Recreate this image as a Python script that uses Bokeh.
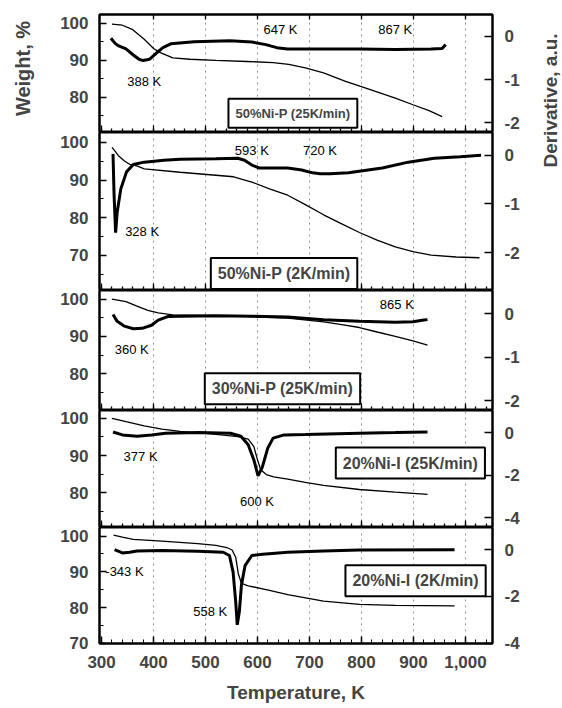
import math
from bokeh.plotting import figure
from bokeh.models import Range1d, LinearAxis, Label, FixedTicker, Grid, NumeralTickFormatter
from bokeh.layouts import column, row
from bokeh.embed import file_html
from bokeh.resources import INLINE

FONT = "Liberation Sans"
NARROW = "'Liberation Sans Narrow', 'Liberation Sans', Arial, sans-serif"

# ---------------- data ----------------
temp_major = [300, 400, 500, 600, 700, 800, 900, 1000]
temp_grid = [400, 500, 600, 700, 800, 900, 1000]
temp_minor = list(range(300, 1061, 20))

# Panel 1: 50%Ni-P (25K/min)
p1_wt_T = [320, 340, 360, 382, 400, 413, 437, 470, 520, 580, 630, 660, 692, 727, 768, 817, 865, 899, 930, 955]
p1_wt = [99.8, 99.5, 98.3, 95.7, 93.2, 92.1, 90.7, 90.3, 90.0, 89.7, 89.4, 88.9, 88.0, 86.6, 84.4, 82.1, 79.8, 78.0, 76.4, 74.8]
p1_dr_T = [318, 326, 333, 347, 361, 372, 380, 392, 405, 418, 433, 478, 547, 589, 616, 637, 658, 720, 796, 865, 934, 955, 962]
p1_dr = [-0.04, -0.16, -0.22, -0.29, -0.43, -0.53, -0.56, -0.53, -0.39, -0.26, -0.17, -0.12, -0.10, -0.13, -0.19, -0.26, -0.29, -0.29, -0.29, -0.30, -0.29, -0.28, -0.19]

# Panel 2: 50%Ni-P (2K/min)
p2_wt_T = [320, 327, 333, 344, 354, 368, 382, 451, 520, 554, 589, 623, 658, 692, 727, 762, 796, 830, 865, 899, 934, 982, 1027]
p2_wt = [98.7, 97.5, 96.4, 95.1, 94.2, 93.8, 93.0, 92.1, 91.3, 90.9, 89.5, 87.7, 86.0, 83.5, 80.8, 78.4, 76.1, 74.1, 72.3, 71.0, 70.1, 69.6, 69.4]
p2_dr_T = [322, 324, 327, 330, 337, 348, 361, 382, 420, 451, 520, 562, 575, 589, 603, 658, 685, 706, 720, 740, 775, 840, 890, 940, 990, 1030]
p2_dr = [0.03, -0.8, -1.59, -1.17, -0.69, -0.34, -0.19, -0.14, -0.10, -0.08, -0.07, -0.06, -0.10, -0.20, -0.26, -0.26, -0.30, -0.36, -0.38, -0.38, -0.36, -0.26, -0.14, -0.06, -0.03, 0.0]

# Panel 3: 30%Ni-P (25K/min)
p3_wt_T = [320, 347, 368, 389, 409, 437, 520, 589, 658, 727, 762, 796, 830, 865, 899, 927]
p3_wt = [100.0, 99.3, 98.1, 97.0, 96.3, 95.8, 95.6, 95.3, 94.9, 93.9, 93.2, 92.4, 91.2, 90.0, 88.8, 87.7]
p3_dr_T = [322, 330, 344, 361, 378, 396, 409, 427, 451, 520, 589, 658, 727, 796, 830, 865, 899, 920, 927]
p3_dr = [-0.02, -0.18, -0.29, -0.35, -0.34, -0.27, -0.15, -0.07, -0.06, -0.05, -0.06, -0.08, -0.14, -0.18, -0.19, -0.20, -0.19, -0.15, -0.14]

# Panel 4: 20%Ni-I (25K/min)
p4_wt_T = [320, 347, 382, 416, 451, 520, 562, 582, 593, 599, 606, 617, 631, 658, 692, 727, 796, 865, 927]
p4_wt = [100.0, 99.1, 98.0, 97.1, 96.5, 95.7, 95.1, 94.4, 92.4, 89.3, 86.2, 84.9, 84.3, 83.7, 82.8, 82.0, 80.9, 80.2, 79.6]
p4_dr_T = [322, 340, 368, 396, 423, 486, 548, 568, 582, 593, 601, 609, 620, 630, 651, 692, 796, 865, 927]
p4_dr = [0.03, -0.11, -0.17, -0.11, -0.03, 0.0, -0.03, -0.17, -0.57, -1.29, -2.04, -1.64, -0.71, -0.26, -0.11, -0.09, -0.03, 0.0, 0.03]

# Panel 5: 20%Ni-I (2K/min)
p5_wt_T = [323, 340, 361, 416, 485, 520, 541, 551, 558, 563, 569, 582, 623, 658, 727, 796, 865, 979]
p5_wt = [100.3, 99.7, 99.1, 98.6, 97.9, 97.4, 96.8, 96.1, 94.1, 89.5, 86.8, 86.1, 84.8, 83.6, 81.8, 80.9, 80.6, 80.5]
p5_dr_T = [325, 340, 354, 368, 416, 485, 534, 546, 553, 558, 561, 565, 569, 576, 589, 610, 658, 727, 796, 979]
p5_dr = [0.0, -0.14, -0.11, -0.06, -0.04, -0.07, -0.11, -0.25, -0.96, -2.23, -3.22, -2.66, -1.53, -0.68, -0.25, -0.20, -0.11, -0.06, -0.01, 0.0]

# sample names and peak labels
names = ["50%Ni-P (25K/min)", "50%Ni-P (2K/min)", "30%Ni-P (25K/min)", "20%Ni-I (25K/min)", "20%Ni-I (2K/min)"]
name_T = [668, 651, 648, 894, 904]
name_W = [75.7, 65.2, 76.0, 88.0, 87.5]
name_size = ["13px", "16px", "16px", "16px", "16px"]

peak_text = [["388 K", "647 K", "867 K"], ["328 K", "593 K", "720 K"], ["360 K", "865 K"], ["377 K", "600 K"], ["-343 K", "558 K"]]
peak_T = [[382, 644, 865], [378, 589, 720], [358, 868], [375, 599], [344, 509]]
peak_W = [[84.4, 98.4, 98.4], [76.3, 97.8, 97.8], [86.6, 98.6], [89.8, 77.8], [90.0, 78.9]]

wt_T = [p1_wt_T, p2_wt_T, p3_wt_T, p4_wt_T, p5_wt_T]
wt = [p1_wt, p2_wt, p3_wt, p4_wt, p5_wt]
dr_T = [p1_dr_T, p2_dr_T, p3_dr_T, p4_dr_T, p5_dr_T]
dr = [p1_dr, p2_dr, p3_dr, p4_dr, p5_dr]

# axis ranges and ticks per panel
w_ranges = [(70.5, 102.4), (60.7, 102.65), (70.2, 102.3), (70.7, 102.1), (69.95, 102.4)]
d_ranges = [(-2.23, 0.51), (-2.78, 0.47), (-2.23, 0.53), (-4.47, 1.04), (-4.02, 0.95)]
d_ticks = [[0, -1, -2], [0, -1, -2], [0, -1, -2], [0, -2, -4], [0, -2, -4]]
w_ticks = [60, 70, 80, 90, 100]
w_minor = [60, 65, 70, 75, 80, 85, 90, 95, 100]

# ---------------- layout ----------------
frame_h = [118, 158, 120, 117, 116]
TOP = 14
BOTTOM = 65
MAIN_W = 490
LEFT_B = 59
RIGHT_B = 38

xr = Range1d(296, 1052)


def tick_only_axis(ticks, length):
    # an axis that draws only (minor) tick marks, with no labels at all
    return LinearAxis(ticker=FixedTicker(ticks=[], minor_ticks=ticks),
                      major_tick_in=0, major_tick_out=0,
                      minor_tick_in=length, minor_tick_out=0,
                      minor_tick_line_width=1.3, minor_tick_line_color="black",
                      major_label_standoff=0,
                      axis_line_color="black", axis_line_width=2)


figs = []
for i in range(5):
    top_b = TOP if i == 0 else 0
    bot_b = BOTTOM if i == 4 else 0
    p = figure(width=MAIN_W, height=frame_h[i] + top_b + bot_b,
               x_range=xr, y_range=Range1d(*w_ranges[i]),
               x_axis_type=None, y_axis_type=None,
               output_backend="svg", toolbar_location=None,
               min_border_left=LEFT_B, min_border_right=RIGHT_B,
               min_border_top=top_b, min_border_bottom=bot_b)
    p.outline_line_color = "black"
    p.outline_line_width = 2
    p.background_fill_color = "white"
    p.border_fill_color = "white"
    p.extra_y_ranges = {"d": Range1d(*d_ranges[i])}

    g = Grid(dimension=0, ticker=FixedTicker(ticks=temp_grid),
             grid_line_color="#909090", grid_line_dash="dotted", grid_line_width=1)
    p.add_layout(g)

    if i == 4:
        xa = LinearAxis(ticker=FixedTicker(ticks=temp_major, minor_ticks=temp_minor),
                        formatter=NumeralTickFormatter(format="0,0"),
                        major_tick_in=7, major_tick_out=0,
                        minor_tick_in=4, minor_tick_out=0,
                        axis_line_color="black", axis_line_width=2,
                        major_tick_line_width=1.5, minor_tick_line_width=1)
        xa.major_label_text_font = FONT
        xa.major_label_text_font_style = "bold"
        xa.major_label_text_font_size = "17px"
        xa.major_label_standoff = 12
        xa.axis_label = "Temperature, K"
        xa.axis_label_text_font = FONT
        xa.axis_label_text_font_style = "bold"
        xa.axis_label_text_font_size = "19px"
        xa.axis_label_standoff = 11
        p.add_layout(xa, "below")
    else:
        p.add_layout(tick_only_axis(temp_major, 7), "below")
        p.add_layout(tick_only_axis(temp_minor, 4), "below")

    if i == 0:
        p.add_layout(tick_only_axis(temp_grid, 5), "above")

    # left axis
    ya = LinearAxis(ticker=FixedTicker(ticks=w_ticks, minor_ticks=w_minor),
                    major_tick_in=7, major_tick_out=0,
                    minor_tick_in=4, minor_tick_out=0,
                    axis_line_color="black", axis_line_width=2,
                    major_tick_line_width=1.5,
                    major_label_text_font=FONT, major_label_text_font_style="bold",
                    major_label_text_font_size="17px", major_label_standoff=11)
    p.add_layout(ya, "left")

    # right axis
    ra = LinearAxis(y_range_name="d", ticker=FixedTicker(ticks=d_ticks[i], minor_ticks=[]),
                    major_tick_in=8, major_tick_out=0, minor_tick_in=0, minor_tick_out=0,
                    axis_line_color="black", axis_line_width=2,
                    major_tick_line_width=1.5,
                    major_label_text_font=FONT, major_label_text_font_style="bold",
                    major_label_text_font_size="17px", major_label_standoff=12,
                    major_label_overrides={t: ("%d" % t) for t in d_ticks[i]})
    p.add_layout(ra, "right")

    p.line(wt_T[i], wt[i], line_color="black", line_width=1.3)
    p.line(dr_T[i], dr[i], y_range_name="d", line_color="black", line_width=3)

    for txt, tx, ty in zip(peak_text[i], peak_T[i], peak_W[i]):
        p.add_layout(Label(x=tx, y=ty, text=txt, text_font=NARROW, text_font_size="13px",
                           text_align="center", text_baseline="middle", text_color="black"))

    p.add_layout(Label(x=name_T[i], y=name_W[i], text=names[i], text_font=FONT,
                       text_font_style="bold", text_font_size=name_size[i],
                       text_align="center", text_baseline="middle",
                       border_line_color="black", border_line_width=2,
                       background_fill_color="white", background_fill_alpha=1.0,
                       padding=7))
    figs.append(p)

# side figures for the vertical axis titles
labL = figure(width=40, height=708, x_range=Range1d(0, 40), y_range=Range1d(0, 708),
              x_axis_type=None, y_axis_type=None, output_backend="svg",
              toolbar_location=None, min_border=0, outline_line_color=None)
labL.add_layout(Label(x=22, y=708 - 68, text="Weight, %", angle=math.pi / 2,
                      text_align="center", text_baseline="middle", text_font=FONT,
                      text_font_style="bold", text_font_size="20px"))

labR = figure(width=32, height=708, x_range=Range1d(0, 32), y_range=Range1d(0, 708),
              x_axis_type=None, y_axis_type=None, output_backend="svg",
              toolbar_location=None, min_border=0, outline_line_color=None)
labR.add_layout(Label(x=20, y=708 - 100, text="Derivative, a.u.", angle=math.pi / 2,
                      text_align="center", text_baseline="middle", text_font=FONT,
                      text_font_style="bold", text_font_size="19px"))

layout = row(labL, column(*figs, spacing=0), labR, spacing=0)

open("out.html", "w").write(file_html(layout, INLINE))
